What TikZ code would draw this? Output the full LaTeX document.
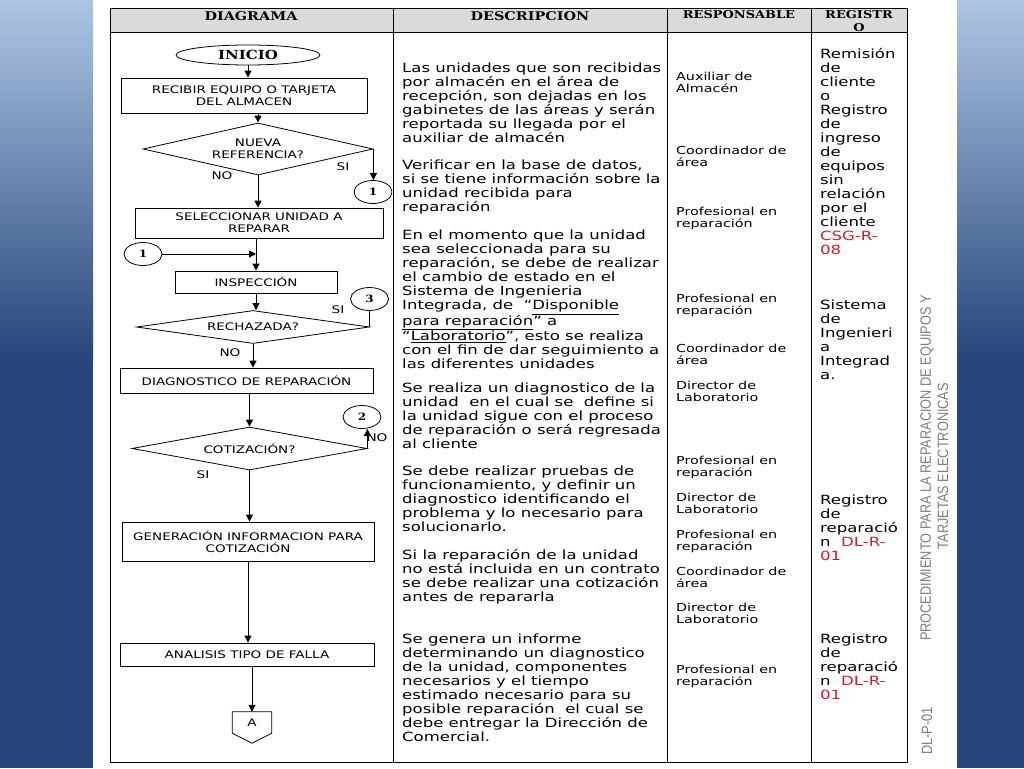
\documentclass[tikz,border=0pt]{standalone}
\usepackage{fontspec}
\usepackage{xcolor}
\usepackage{tikz}
\usetikzlibrary{
    arrows.meta,
    positioning,
    shapes.geometric,
    calc
}

\setmainfont{DejaVu Sans}
\newfontfamily\verdfont[FakeStretch=1.3]{DejaVu Sans}
\newfontfamily\titlefont[FakeStretch=1.2]{DejaVu Serif}
\newfontfamily\sidefont[FakeStretch=0.85]{Liberation Sans}

\definecolor{barlight}{RGB}{174,197,228}
\definecolor{bardark}{RGB}{38,69,122}
\definecolor{headgray}{RGB}{218,218,218}
\definecolor{regred}{RGB}{214,28,36}
\definecolor{sidegray}{RGB}{125,125,125}

\begin{document}
\begin{tikzpicture}[
        x=1pt, y=-1pt,
        inner sep=0pt,
        proc/.style={
            rectangle,
            draw,
            line width=0.8pt,
            align=center,
            font=\verdfont\fontsize{10.4}{12}\selectfont
        },
        decision/.style={
            diamond,
            draw,
            line width=0.8pt,
            align=center,
            font=\verdfont\fontsize{10.4}{12}\selectfont
        },
        connector/.style={
            ellipse,
            draw,
            line width=0.8pt,
            minimum width=38pt,
            minimum height=23pt,
            font=\titlefont\bfseries\fontsize{10}{12}\selectfont
        },
        line/.style={
            -{Triangle[length=7pt,width=7pt]},
            line width=1pt
        },
        lbl/.style={
            font=\verdfont\fontsize{10.5}{12}\selectfont
        },
        head/.style={
            align=center,
            font=\titlefont\bfseries\fontsize{12}{13}\selectfont
        },
        desc/.style={
            anchor=north west,
            align=left,
            font=\verdfont\fontsize{12.7}{14}\selectfont
        },
        resp/.style={
            anchor=north west,
            align=left,
            font=\verdfont\fontsize{11}{12.8}\selectfont
        },
        side/.style={
            rotate=90,
            text=sidegray,
            font=\sidefont\fontsize{15}{16}\selectfont
        }
    ]

    \useasboundingbox (0,0) rectangle (1024,768);

    % side bars
    \shade[top color=barlight, bottom color=bardark] (0,0) rectangle (93,360);
    \fill[bardark] (0,359) rectangle (93,768);
    \shade[top color=barlight, bottom color=bardark] (957,0) rectangle (1024,360);
    \fill[bardark] (957,359) rectangle (1024,768);

    % table
    \draw[line width=1pt, fill=headgray] (110,9) rectangle (907,33);
    \draw[line width=1pt] (110,9) rectangle (907,762);
    \foreach \cx in {393,667,811}
        \draw[line width=1pt] (\cx,9) -- (\cx,762);

    \node[head] (hdiag) at (251,16) {DIAGRAMA};
    \node[head] (hdesc) at (530,16) {DESCRIPCION};
    \node[head, font=\titlefont\bfseries\fontsize{10.8}{13}\selectfont]
        (hresp) at (739,14.5) {RESPONSABLE};
    \node[head, font=\titlefont\bfseries\fontsize{10.8}{13}\selectfont]
        (hreg) at (859,21) {REGISTR\\O};

    % flowchart
    \node[ellipse, draw, line width=0.8pt, minimum width=144pt, minimum height=20pt,
          font=\titlefont\bfseries\fontsize{12.5}{13}\selectfont]
        (inicio) at (248,55) {INICIO};
    \node[proc, minimum width=246pt, minimum height=35pt] (recibir) at (244,95.5)
        {RECIBIR EQUIPO O TARJETA\\DEL ALMACEN};
    \node[decision, aspect=4.4, minimum width=230pt, minimum height=52pt] (nueva) at (258,149)
        {NUEVA\\REFERENCIA?};
    \node[connector] (unoa) at (373,192) {1};
    \node[proc, minimum width=248pt, minimum height=30pt] (selec) at (259,223)
        {SELECCIONAR UNIDAD A\\REPARAR};
    \node[connector] (unob) at (143,254) {1};
    \node[proc, minimum width=162pt, minimum height=22pt] (insp) at (256,282)
        {INSPECCIÓN};
    \node[decision, aspect=7, minimum width=233pt, minimum height=33pt] (rechaz) at (253,327)
        {RECHAZADA?};
    \node[connector] (tres) at (369.5,299) {3};
    \node[proc, minimum width=253pt, minimum height=25pt] (diagn) at (246.5,380.5)
        {DIAGNOSTICO DE REPARACIÓN};
    \node[decision, aspect=5.5, minimum width=235pt, minimum height=43pt] (cotiz) at (249.5,448.5)
        {COTIZACIÓN?};
    \node[connector] (dos) at (362,417) {2};
    \node[proc, minimum width=252pt, minimum height=39pt] (gener) at (248,541.5)
        {GENERACIÓN INFORMACION PARA\\COTIZACIÓN};
    \node[proc, minimum width=254pt, minimum height=23pt] (analisis) at (247,654.5)
        {ANALISIS TIPO DE FALLA};
    \node[minimum width=39pt, minimum height=21pt, font=\verdfont\fontsize{10.4}{12}\selectfont]
        (pagA) at (252,722.5) {A};
    \draw[line width=0.8pt] (pagA.north west) -- (pagA.north east) -- (pagA.south east)
        -- ($(pagA.south)+(0,10)$) -- (pagA.south west) -- cycle;

    \draw[line] (inicio.south) -- (inicio.south |- recibir.north);
    \draw[line] (nueva.north |- recibir.south) -- (nueva.north);
    \draw[line] (nueva.east) -- (nueva.east |- unoa.north);
    \draw[line] (nueva.south) -- (nueva.south |- selec.north);
    \draw[line] (insp.north |- selec.south) -- (insp.north);
    \draw[line] (unob.east) -- (unob.east -| insp.north);
    \draw[line] (insp.south) -- (insp.south |- rechaz.north);
    \draw[line width=1pt] (rechaz.east) -- (rechaz.east |- tres.south);
    \draw[line] (rechaz.south) -- (rechaz.south |- diagn.north);
    \draw[line] (cotiz.north |- diagn.south) -- (cotiz.north);
    \draw[line] (cotiz.east) -- (cotiz.east |- dos.south);
    \draw[line] (cotiz.south) -- (cotiz.south |- gener.north);
    \draw[line] (gener.south) -- (gener.south |- analisis.north);
    \draw[line] (pagA.north |- analisis.south) -- (pagA.north);

    \node[lbl] (sia) at (343,167) {SI};
    \node[lbl] (noa) at (222,176) {NO};
    \node[lbl] (sib) at (338,310) {SI};
    \node[lbl] (nob) at (230,353) {NO};
    \node[lbl] (noc) at (377,438) {NO};
    \node[lbl] (sic) at (203,475) {SI};

    % descripcion
    \node[desc] (desca) at (402,63)
        {Las unidades que son recibidas\\
         por almacén en el área de\\
         recepción, son dejadas en los\\
         gabinetes de las áreas y serán\\
         reportada su llegada por el\\
         auxiliar de almacén};
    \node[desc] (descb) at (402,160)
        {Verificar en la base de datos,\\
         si se tiene información sobre la\\
         unidad recibida para\\
         reparación};
    \node[desc] (descc) at (402,230)
        {En el momento que la unidad\\
         sea seleccionada para su\\
         reparación, se debe de realizar\\
         el cambio de estado en el\\
         Sistema de Ingenieria\\
         Integrada, de~~“\underline{Disponible}\\
         \underline{para reparación}” a\\
         “\underline{Laboratorio}”, esto se realiza\\
         con el fin de dar seguimiento a\\
         las diferentes unidades};
    \node[desc] (descd) at (402,383)
        {Se realiza un diagnostico de la\\
         unidad~~en el cual se~~define si\\
         la unidad sigue con el proceso\\
         de reparación o será regresada\\
         al cliente};
    \node[desc] (desce) at (402,466)
        {Se debe realizar pruebas de\\
         funcionamiento, y definir un\\
         diagnostico identificando el\\
         problema y lo necesario para\\
         solucionarlo.};
    \node[desc] (descf) at (402,549)
        {Si la reparación de la unidad\\
         no está incluida en un contrato\\
         se debe realizar una cotización\\
         antes de repararla};
    \node[desc] (descg) at (402,634)
        {Se genera un informe\\
         determinando un diagnostico\\
         de la unidad, componentes\\
         necesarios y el tiempo\\
         estimado necesario para su\\
         posible reparación~~el cual se\\
         debe entregar la Dirección de\\
         Comercial.};

    % responsable
    \node[resp] (respa) at (676,71.5) {Auxiliar de\\Almacén};
    \node[resp] (respb) at (676,145.5) {Coordinador de\\área};
    \node[resp] (respc) at (676,206.5) {Profesional en\\reparación};
    \node[resp] (respd) at (676,293.5) {Profesional en\\reparación};
    \node[resp] (respe) at (676,343.5) {Coordinador de\\área};
    \node[resp] (respf) at (676,380.5) {Director de\\Laboratorio};
    \node[resp] (respg) at (676,455.5) {Profesional en\\reparación};
    \node[resp] (resph) at (676,492.5) {Director de\\Laboratorio};
    \node[resp] (respi) at (676,529.5) {Profesional en\\reparación};
    \node[resp] (respj) at (676,566.5) {Coordinador de\\área};
    \node[resp] (respk) at (676,602.5) {Director de\\Laboratorio};
    \node[resp] (respl) at (676,664.5) {Profesional en\\reparación};

    % registro
    \node[desc] (rega) at (820,48.5)
        {Remisión\\de\\cliente\\o\\Registro\\de\\ingreso\\de\\equipos\\sin\\relación\\por el\\cliente\\
         \textcolor{regred}{CSG-R-}\\\textcolor{regred}{08}};
    \node[desc] (regb) at (820,299.5)
        {Sistema\\de\\Ingenieri\\a\\Integrad\\a.};
    \node[desc] (regc) at (820,494.5)
        {Registro\\de\\reparació\\n~~\textcolor{regred}{DL-R-}\\\textcolor{regred}{01}};
    \node[desc] (regd) at (820,633.5)
        {Registro\\de\\reparació\\n~~\textcolor{regred}{DL-R-}\\\textcolor{regred}{01}};

    % vertical title
    \node[side] (tituloa) at (927,468) {PROCEDIMIENTO PARA~LA REPARACION DE EQUIPOS Y};
    \node[side] (titulob) at (943,466) {TARJETAS ELECTRONICAS};
    \node[side] (codigo) at (927,731) {DL-P-01};

\end{tikzpicture}
\end{document}
